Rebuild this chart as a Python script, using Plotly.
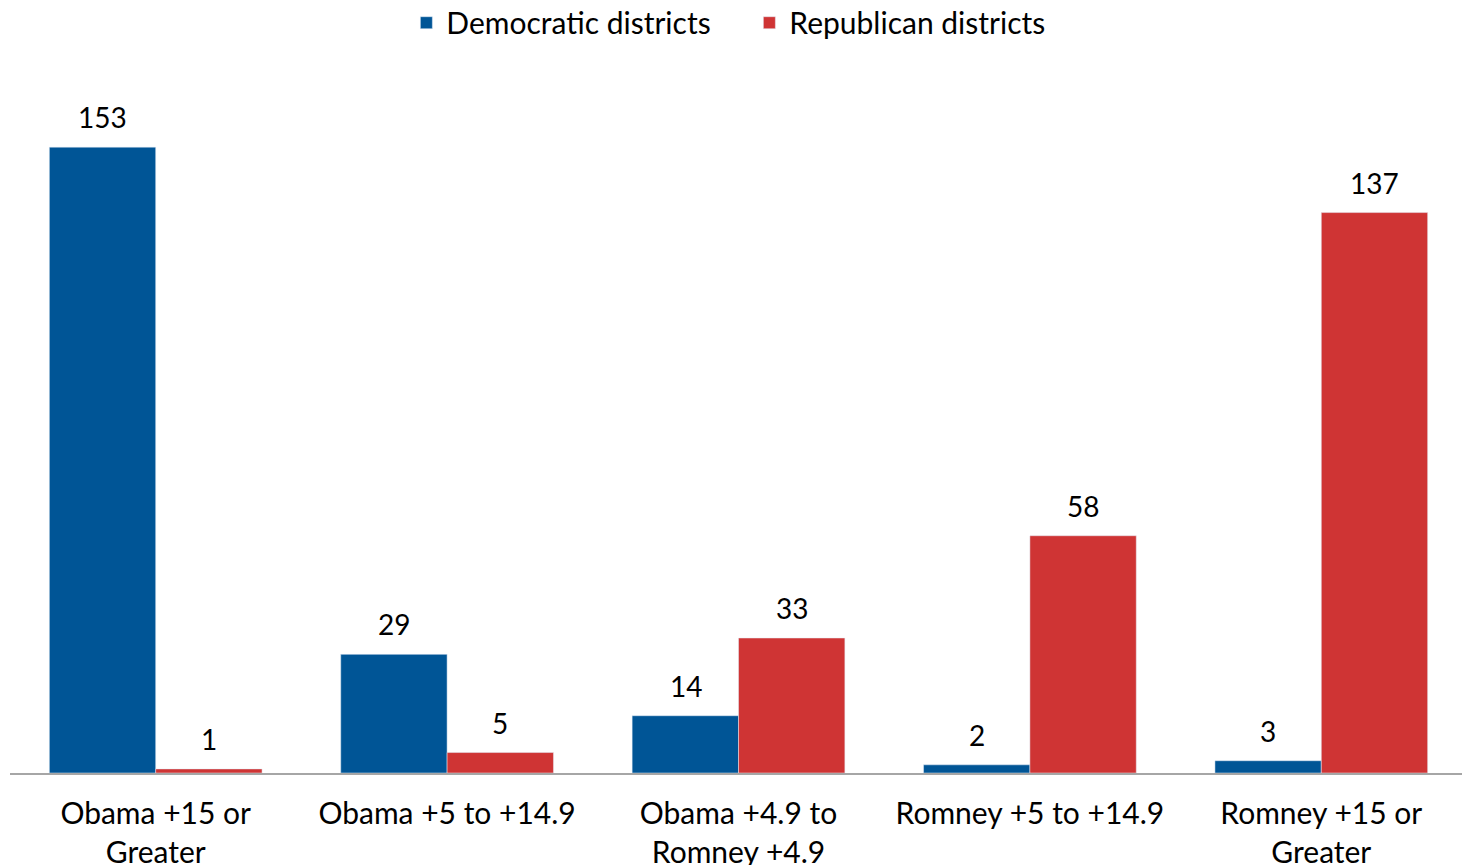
import plotly.graph_objects as go

categories = ["Obama +15 or<br>Greater", "Obama +5 to +14.9", "Obama +4.9 to<br>Romney +4.9",
              "Romney +5 to +14.9", "Romney +15 or<br>Greater"]
dem_values = [153, 29, 14, 2, 3]
rep_values = [1, 5, 33, 58, 137]

FONT = "Lato"
BLUE = "#005596"
RED = "#cf3434"

fig = go.Figure()
fig.add_trace(go.Bar(name="Democratic districts", x=categories, y=dem_values,
                     marker_color=BLUE))
fig.add_trace(go.Bar(name="Republican districts", x=categories, y=rep_values,
                     marker_color=RED))

# value labels above bars
for vals, shift in ((dem_values, -53), (rep_values, 53)):
    for c, v in zip(categories, vals):
        fig.add_annotation(x=c, y=v, text=str(v), showarrow=False, xshift=shift,
                           yanchor="bottom", yshift=11,
                           font=dict(size=28, color="black", family=FONT))

fig.update_layout(
    barmode="group", bargap=0.27, bargroupgap=0,
    width=1470, height=865,
    margin=dict(l=2, r=11, t=52, b=100, autoexpand=False),
    paper_bgcolor="white", plot_bgcolor="white",
    font=dict(family=FONT, size=30, color="black"),
    legend=dict(orientation="h", x=0.271, xanchor="left", xref="container",
                y=0.983, yanchor="middle", yref="container", entrywidth=298,
                font=dict(size=30, family=FONT), traceorder="normal"),
    xaxis=dict(showline=True, linecolor="#a6a6a6", linewidth=2, ticks="outside",
               ticklen=13, tickcolor="rgba(0,0,0,0)", tickfont=dict(size=30),
               automargin=False),
    yaxis=dict(range=[0, 174.3], showgrid=False, showticklabels=False, zeroline=False,
               automargin=False),
)
fig.write_html("out.html")
